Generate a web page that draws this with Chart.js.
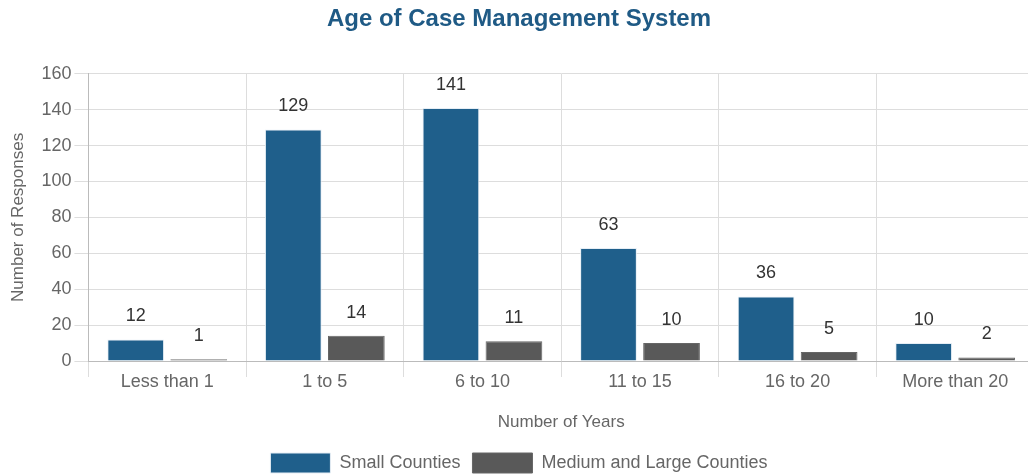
<!DOCTYPE html>
<html>
<head>
<meta charset="utf-8">
<script src="https://cdn.jsdelivr.net/npm/chart.js@4"></script>
<style>
  html, body { margin: 0; padding: 0; background: #fff; overflow: hidden; }
  #wrap { width: 1034px; height: 483px; }
</style>
</head>
<body>
<div id="wrap"><canvas id="myChart"></canvas></div>
<script>
const categories = ['Less than 1', '1 to 5', '6 to 10', '11 to 15', '16 to 20', 'More than 20'];
const smallCounties = [12, 129, 141, 63, 36, 10];
const mediumLargeCounties = [1, 14, 11, 10, 5, 2];

Chart.defaults.font.family = '"Liberation Sans", Arial, sans-serif';

// draws the number above each bar
const barValues = {
  id: 'barValues',
  afterDatasetsDraw(chart) {
    const ctx = chart.ctx;
    ctx.save();
    ctx.font = '18px "Liberation Sans", Arial, sans-serif';
    ctx.fillStyle = '#333';
    ctx.textAlign = 'center';
    ctx.textBaseline = 'middle';
    chart.data.datasets.forEach((ds, i) => {
      chart.getDatasetMeta(i).data.forEach((bar, j) => {
        ctx.fillText(ds.data[j], bar.x, bar.y - 23);
      });
    });
    ctx.restore();
  }
};

const ctx = document.getElementById('myChart');

new Chart(ctx, {
  type: 'bar',
  data: {
    labels: categories,
    datasets: [{
      label: 'Small Counties',
      data: smallCounties,
      backgroundColor: '#1f5f8b',
      borderColor: '#e6eef5',
      borderWidth: 1
    }, {
      label: 'Medium and Large Counties',
      data: mediumLargeCounties,
      backgroundColor: '#595959',
      borderColor: '#666',
      borderWidth: 1
    }]
  },
  options: {
    responsive: true,
    maintainAspectRatio: false,
    animation: false,
    layout: { padding: { left: 4, right: 0, top: 0, bottom: 0 } },
    datasets: { bar: { categoryPercentage: 0.8, barPercentage: 0.9 } },
    plugins: {
      title: {
        display: true,
        text: 'Age of Case Management System',
        color: '#1f5a85',
        font: { size: 24, weight: 'bold' },
        padding: { top: 5, bottom: 40 }
      },
      legend: {
        position: 'bottom',
        labels: {
          color: '#666',
          font: { size: 18 },
          boxWidth: 60,
          boxHeight: 20,
          padding: 12
        }
      },
      tooltip: { enabled: false }
    },
    scales: {
      x: {
        title: { display: true, text: 'Number of Years', color: '#666', font: { size: 17 }, padding: { top: 26, bottom: 8 } },
        ticks: { color: '#666', font: { size: 18 }, padding: -6 },
        grid: { color: '#ddd', tickLength: 16 },
        border: { color: '#bbb' }
      },
      y: {
        beginAtZero: true,
        min: 0,
        max: 160,
        title: { display: true, text: 'Number of Responses', color: '#666', font: { size: 17 }, padding: { top: 4, bottom: 10 } },
        ticks: { stepSize: 20, color: '#666', font: { size: 18 } },
        grid: { color: '#ddd', tickLength: 14 },
        border: { color: '#bbb' }
      }
    }
  },
  plugins: [barValues]
});
</script>
</body>
</html>
